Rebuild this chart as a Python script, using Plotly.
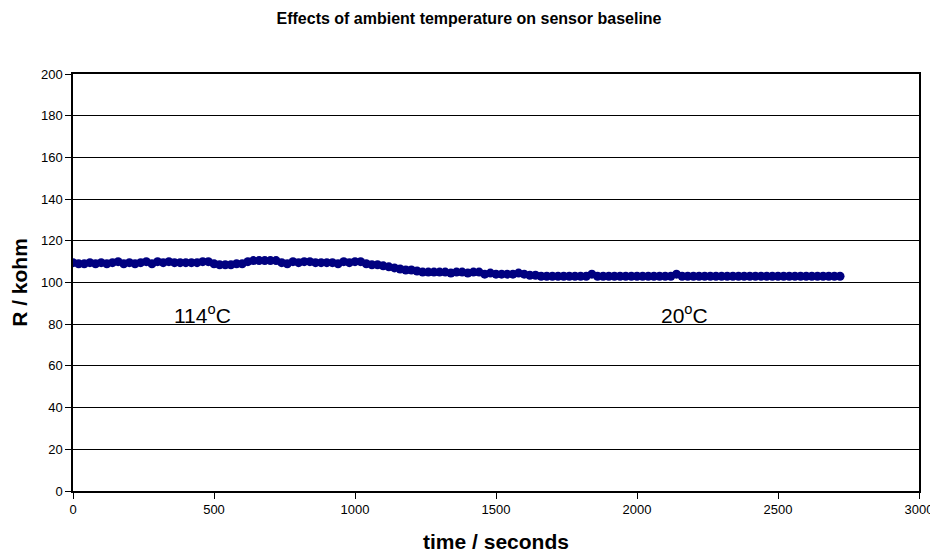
import plotly.graph_objects as go

# sample times (s), one reading every 20 s
time_s = list(range(0, 2740, 20))

# resistance readings (kohm)
r_kohm = [
    # 0 - 500
    109.5, 109, 109, 109.5, 109, 109.5, 109, 109.5, 110, 109,
    109.5, 109, 109.5, 110, 109, 110, 109.5, 110, 109.5, 109.5,
    109.5, 109.5, 109.5, 110, 110, 109,
    # 520 - 600
    108.5, 108.5, 108.5, 109, 109,
    # 620 - 1020
    110, 110.5, 110.5, 110.5, 110.5, 110.5, 109.5, 109, 110, 109.5,
    110, 110, 109.5, 109.5, 109.5, 109.5, 109, 110, 109.5, 110, 110,
    # 1040 - 1280
    109, 108.5, 108.5, 108, 107.5, 107, 106.5, 106, 106, 105.5, 105, 105, 105,
    # 1300 - 1440
    105, 105, 104.5, 105, 105, 104.5, 105, 105,
    # 1460 - 1640
    104, 104.5, 104, 104, 104, 104, 104.5, 104, 103.5, 103.5,
    # 1660 - 2720
    103, 103, 103, 103, 103, 103, 103, 103, 103, 104,
    103, 103, 103, 103, 103, 103, 103, 103, 103, 103,
    103, 103, 103, 103, 104, 103, 103, 103, 103, 103,
    103, 103, 103, 103, 103, 103, 103, 103, 103, 103,
    103, 103, 103, 103, 103, 103, 103, 103, 103, 103,
    103, 103, 103, 103,
]

y_ticks = [0, 20, 40, 60, 80, 100, 120, 140, 160, 180, 200]
x_ticks = [0, 500, 1000, 1500, 2000, 2500, 3000]

labels = ["114<sup>o</sup>C", "20<sup>o</sup>C"]
label_x = [460, 2170]
label_y = [85, 85]

NAVY = "#000080"
FONT = "Liberation Sans, Arial, sans-serif"

# page body adds an 8 px offset; figure is sized to compensate
W, H = 930, 547

fig = go.Figure()
fig.add_trace(go.Scatter(
    x=time_s, y=r_kohm, mode="lines+markers",
    line=dict(color=NAVY, width=3),
    marker=dict(color=NAVY, size=9, symbol="circle"),
    showlegend=False,
))

for txt, lx, ly in zip(labels, label_x, label_y):
    fig.add_annotation(x=lx, y=ly, text=txt, showarrow=False,
                       font=dict(family=FONT, size=21, color="black"))

fig.update_layout(
    width=W, height=H,
    margin=dict(l=65, r=19, t=66, b=64),
    paper_bgcolor="white", plot_bgcolor="white",
    font=dict(family=FONT, color="black"),
    title=dict(text="<b>Effects of ambient temperature on sensor baseline</b>",
               x=(469 - 8) / W, xanchor="center",
               y=1 - (18 - 8) / H, yanchor="middle",
               font=dict(family=FONT, size=16, color="black")),
)
fig.update_xaxes(
    range=[0, 3000], tickvals=x_ticks, ticktext=[str(v) for v in x_ticks],
    showgrid=False, zeroline=False, automargin=False,
    showline=True, linecolor="black", linewidth=1.5, mirror=True,
    ticks="outside", ticklen=6, tickcolor="black", tickwidth=1,
    tickfont=dict(family=FONT, size=13, color="black"),
    title=dict(text="<b>time / seconds</b>", standoff=18,
               font=dict(family=FONT, size=21, color="black")),
)
fig.update_yaxes(
    range=[0, 200], tickvals=y_ticks, ticktext=[str(v) for v in y_ticks],
    showgrid=True, gridcolor="black", gridwidth=1, zeroline=False,
    automargin=False,
    showline=True, linecolor="black", linewidth=1.5, mirror=True,
    ticks="outside", ticklen=6, tickcolor="black", tickwidth=1,
    tickfont=dict(family=FONT, size=13, color="black"),
    title=dict(text="<b>R / kohm</b>", standoff=11,
               font=dict(family=FONT, size=21, color="black")),
)

fig.write_html("out.html")
